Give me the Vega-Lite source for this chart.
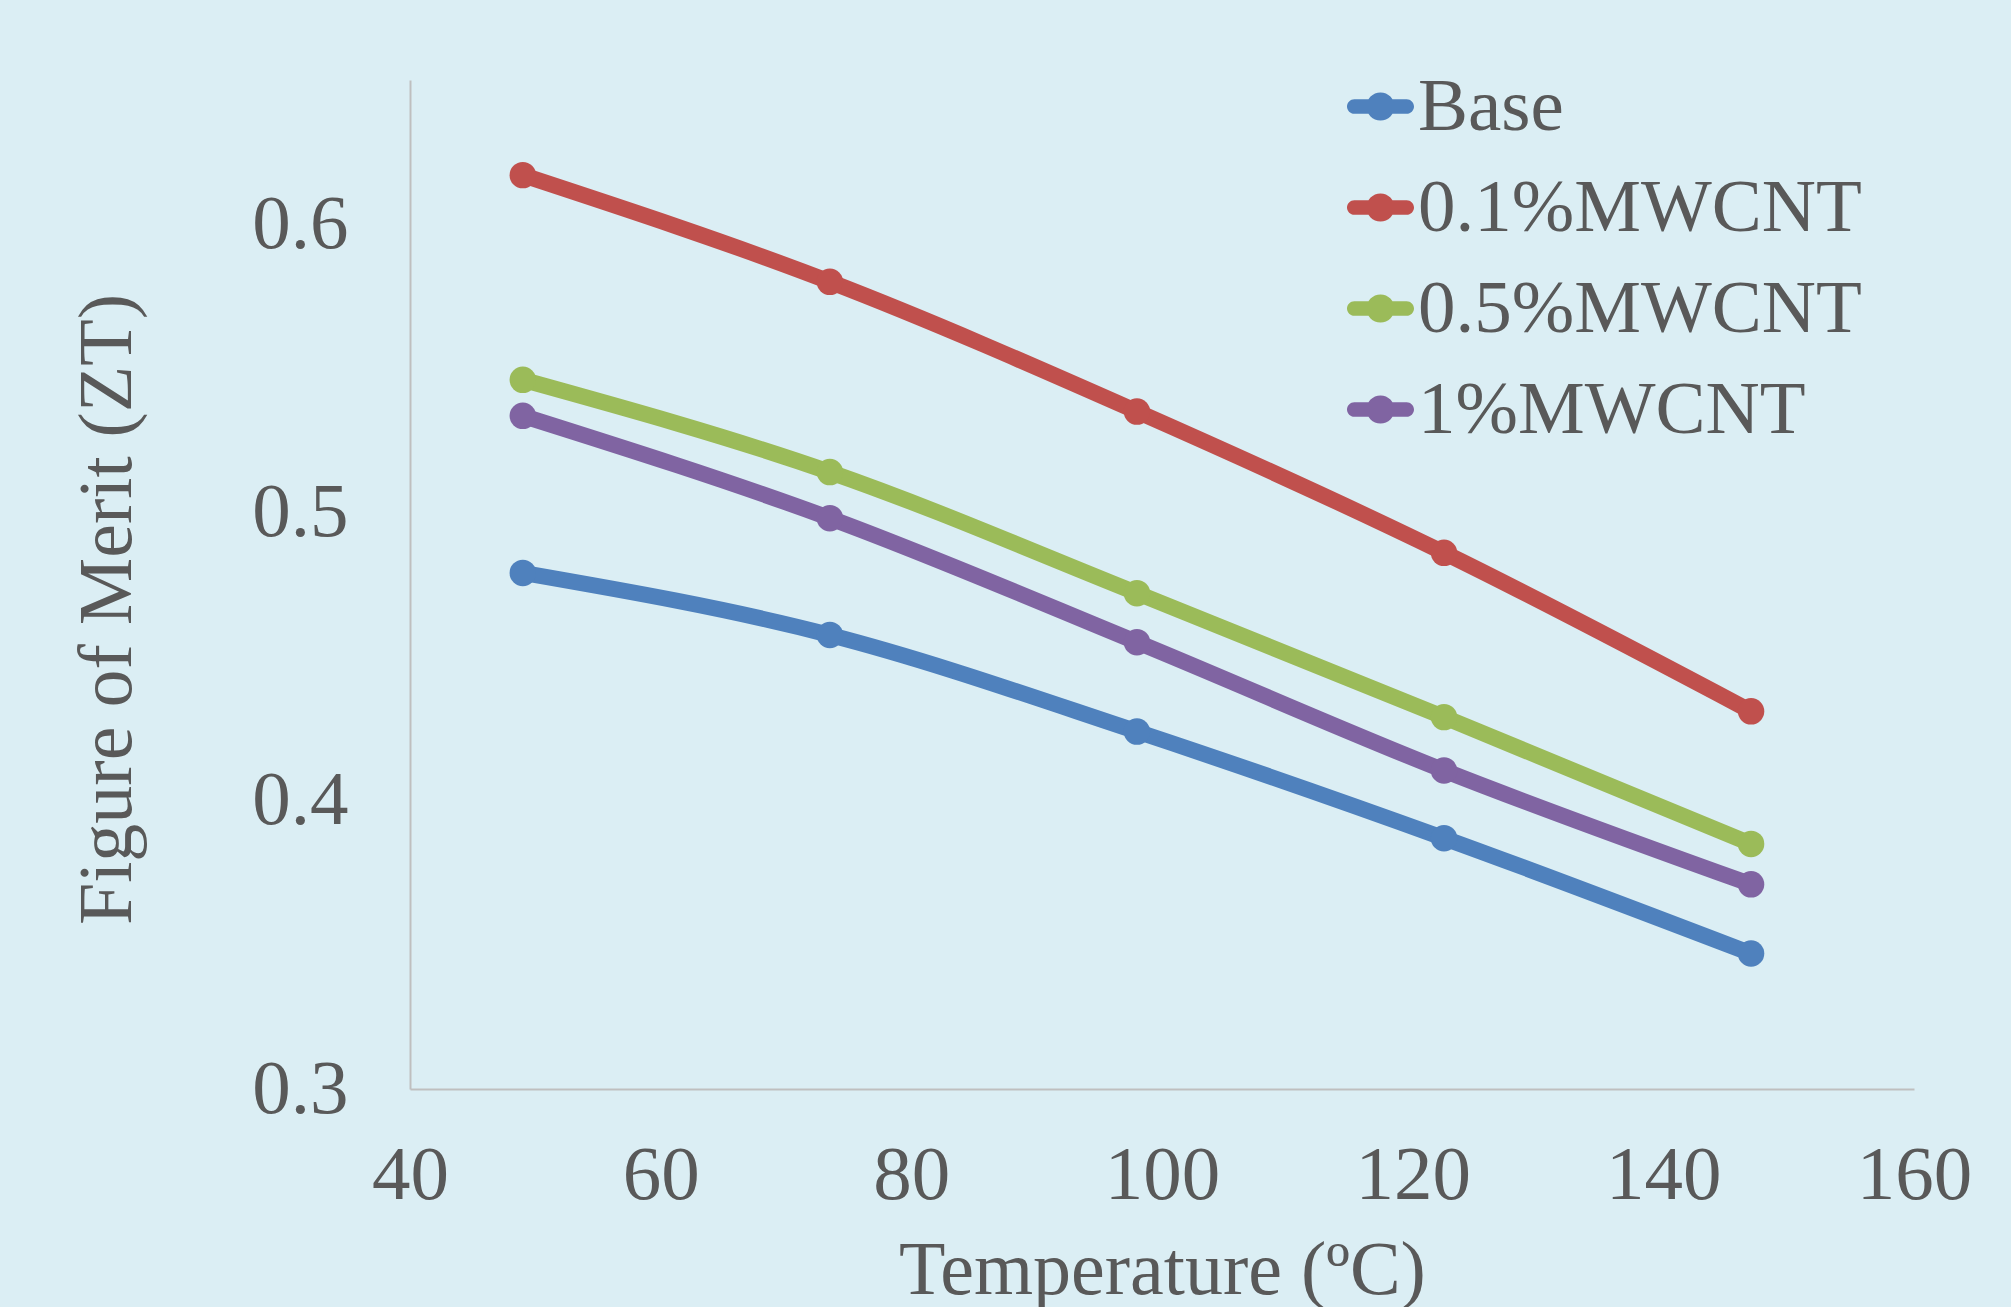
{
  "$schema": "https://vega.github.io/schema/vega-lite/v6.json",
  "autosize": "none",
  "width": 1504,
  "height": 1009,
  "padding": {"left": 410, "top": 80, "right": 97, "bottom": 218},
  "background": "#DBEEF4",
  "config": {
    "view": {"stroke": null},
    "font": "Liberation Serif",
    "axis": {
      "grid": false,
      "ticks": false,
      "domainColor": "#BFBFBF",
      "domainWidth": 2,
      "labelFont": "Liberation Serif",
      "labelColor": "#595959",
      "labelFontSize": 77,
      "labelFlush": false,
      "labelOverlap": false,
      "titleFont": "Liberation Serif",
      "titleColor": "#595959",
      "titleFontSize": 76,
      "titleFontWeight": "normal"
    }
  },
  "data": {
    "values": [
      {"T": 49, "ZT": 0.479, "series": "Base"},
      {"T": 73.5, "ZT": 0.4575, "series": "Base"},
      {"T": 98, "ZT": 0.424, "series": "Base"},
      {"T": 122.5, "ZT": 0.387, "series": "Base"},
      {"T": 147, "ZT": 0.347, "series": "Base"},
      {"T": 49, "ZT": 0.617, "series": "0.1%MWCNT"},
      {"T": 73.5, "ZT": 0.580, "series": "0.1%MWCNT"},
      {"T": 98, "ZT": 0.535, "series": "0.1%MWCNT"},
      {"T": 122.5, "ZT": 0.486, "series": "0.1%MWCNT"},
      {"T": 147, "ZT": 0.431, "series": "0.1%MWCNT"},
      {"T": 49, "ZT": 0.546, "series": "0.5%MWCNT"},
      {"T": 73.5, "ZT": 0.514, "series": "0.5%MWCNT"},
      {"T": 98, "ZT": 0.472, "series": "0.5%MWCNT"},
      {"T": 122.5, "ZT": 0.429, "series": "0.5%MWCNT"},
      {"T": 147, "ZT": 0.385, "series": "0.5%MWCNT"},
      {"T": 49, "ZT": 0.5335, "series": "1%MWCNT"},
      {"T": 73.5, "ZT": 0.498, "series": "1%MWCNT"},
      {"T": 98, "ZT": 0.455, "series": "1%MWCNT"},
      {"T": 122.5, "ZT": 0.4105, "series": "1%MWCNT"},
      {"T": 147, "ZT": 0.371, "series": "1%MWCNT"}
    ]
  },
  "encoding": {
    "x": {
      "field": "T",
      "type": "quantitative",
      "scale": {"domain": [40, 160], "nice": false, "zero": false},
      "axis": {
        "values": [40, 60, 80, 100, 120, 140, 160],
        "labelPadding": 48,
        "title": "Temperature (ºC)",
        "titleX": 752,
        "titleY": 204,
        "titleBaseline": "alphabetic",
        "titleAlign": "center"
      }
    },
    "y": {
      "field": "ZT",
      "type": "quantitative",
      "scale": {"domain": [0.3, 0.65], "nice": false, "zero": false},
      "axis": {
        "values": [0.3, 0.4, 0.5, 0.6],
        "format": ".1f",
        "labelPadding": 62,
        "title": "Figure of Merit (ZT)",
        "titleAngle": -90,
        "titleX": -280,
        "titleY": 529,
        "titleBaseline": "alphabetic",
        "titleAlign": "center"
      }
    },
    "color": {
      "field": "series",
      "type": "nominal",
      "scale": {
        "domain": ["Base", "0.1%MWCNT", "0.5%MWCNT", "1%MWCNT"],
        "range": ["#4F81BD", "#C0504D", "#9BBB59", "#8064A2"]
      },
      "legend": {
        "title": null,
        "orient": "none",
        "legendX": 933,
        "legendY": -11,
        "symbolType": "M-0.78,-0.22L0.78,-0.22A0.22,0.22,0,0,1,0.78,0.22L-0.78,0.22A0.22,0.22,0,0,1,-0.78,-0.22Z M0.42,0A0.42,0.42,0,1,1,-0.42,0A0.42,0.42,0,1,1,0.42,0Z",
        "symbolSize": 4489,
        "symbolStrokeWidth": 0,
        "symbolOpacity": 1,
        "labelFont": "Liberation Serif",
        "labelFontSize": 75,
        "labelColor": "#595959",
        "labelOffset": 0,
        "labelLimit": 0,
        "rowPadding": 25,
        "encode": {
          "symbols": {
            "update": {
              "fill": {"scale": "color", "field": "value"},
              "fillOpacity": {"value": 1},
              "strokeWidth": {"value": 0}
            }
          }
        }
      }
    }
  },
  "layer": [
    {
      "mark": {"type": "line", "strokeWidth": 16, "interpolate": "monotone", "strokeCap": "round"}
    },
    {
      "mark": {"type": "point", "filled": true, "size": 700, "opacity": 1}
    }
  ]
}
